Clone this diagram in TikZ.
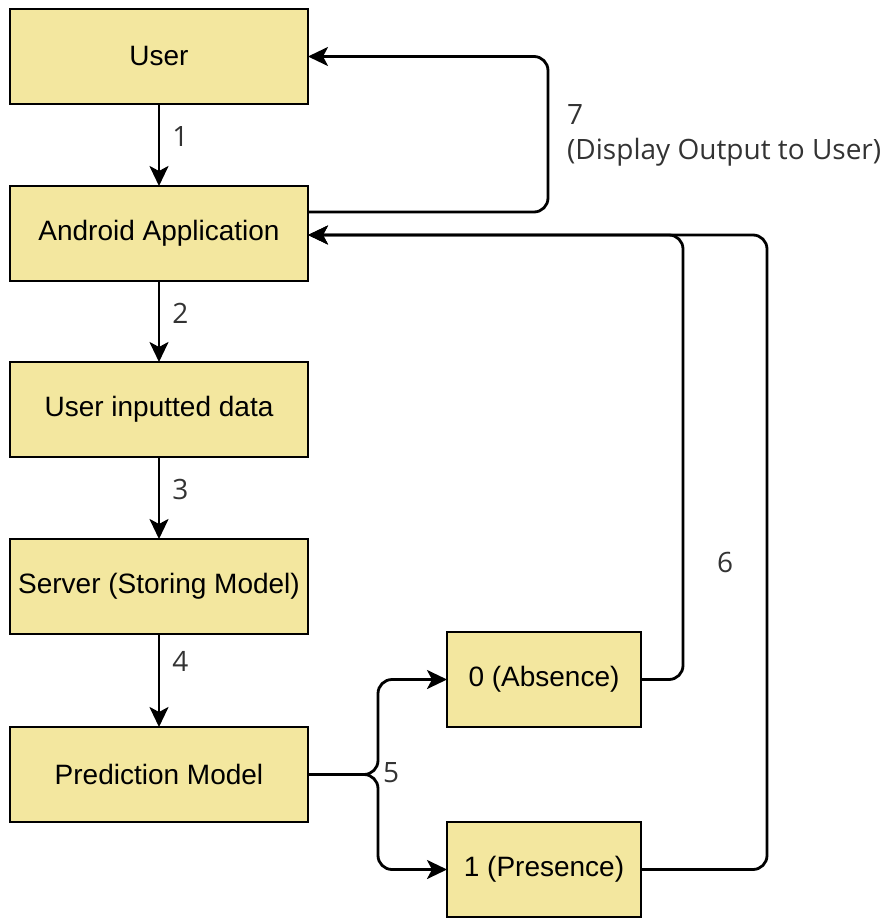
\documentclass[tikz,border=0pt]{standalone}
\usepackage{fontspec}
\setmainfont{Liberation Sans}
\newfontfamily\labelfont{Open Sans}
\usepackage{xcolor}
\usetikzlibrary{positioning, arrows.meta}
\definecolor{boxfill}{HTML}{F3E79F}
\definecolor{labelgray}{HTML}{333333}

\begin{document}
\begin{tikzpicture}[x=1pt, y=-1pt,
		box/.style={draw, fill=boxfill, line width=2.6pt, minimum width=298pt, minimum height=95pt, inner sep=0pt, outer sep=0pt, font=\fontsize{28}{33}\selectfont},
		flow/.style={line width=2.8pt, -{Stealth[length=20pt, width=19pt, inset=5pt]}},
		num/.style={font=\labelfont\fontsize{28}{35}\selectfont, text=labelgray, inner sep=0pt}]
		\useasboundingbox (0,0) rectangle (895,918);
		
		% Main column
		\node[box] (user) at (159,56.5) {User};
		\node[box, below=82pt of user] (app) {Android Application};
		\node[box, below=81pt of app] (data) {User inputted data};
		\node[box, below=82pt of data] (server) {Server (Storing Model)};
		\node[box, below=93pt of server] (pred) {Prediction Model};
		
		% Outcome boxes
		\node[box, minimum width=194pt] (absent) at (544,679.5) {0 (Absence)};
		\node[box, minimum width=194pt] (present) at (544,869.5) {1 (Presence)};
		
		% Forward steps
		\draw[flow] (user) -- node[num, pos=0.4, right=12pt] (n1) {1} (app);
		\draw[flow] (app) -- node[num, pos=0.4, right=12pt] (n2) {2} (data);
		\draw[flow] (data) -- node[num, pos=0.4, right=12pt] (n3) {3} (server);
		\draw[flow] (server) -- node[num, pos=0.3, right=12pt] (n4) {4} (pred);
		
		% Branch 5
		\draw[flow, rounded corners=14pt] (pred.east) -| (378,679.5) -- (absent.west);
		\draw[flow, rounded corners=14pt] (pred.east) -| (378,869.5) -- (present.west);
		\node[num, anchor=west] (n5) at (383,773) {5};
		
		% Results back to app
		\draw[flow, rounded corners=14pt] (absent.east) -| (683,235) -- ([yshift=-1.5pt]app.east);
		\draw[flow, rounded corners=14pt] (present.east) -| (767,235) -- ([yshift=-1.5pt]app.east);
		\node[num] (n6) at (725,562) {6};
		
		% Output to user
		\draw[flow, rounded corners=14pt] ([yshift=21.5pt]app.east) -| (548,56.5) -- (user.east);
		\node[num, anchor=west, align=left] (n7) at (567,135) {7\\(Display Output to User)};
	\end{tikzpicture}
\end{document}
